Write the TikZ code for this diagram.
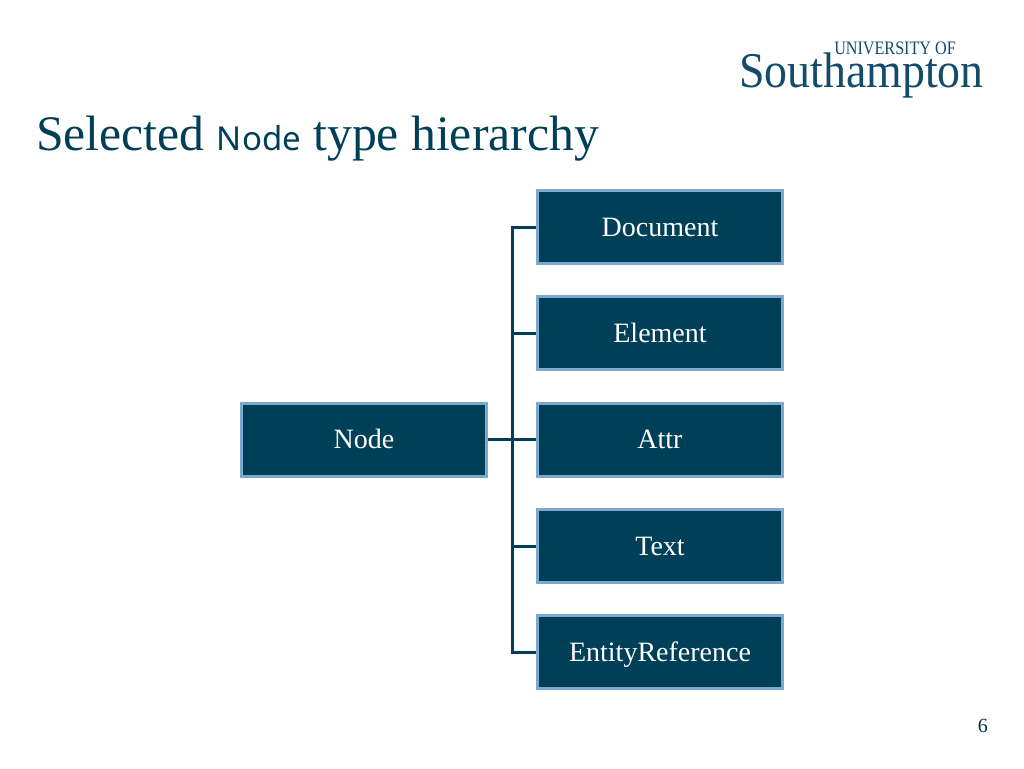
\documentclass[tikz,border=0pt]{standalone}
\usepackage{fontspec}
\setmainfont{Liberation Serif}
\newfontfamily\sansfont{Noto Sans}
\definecolor{boxfill}{HTML}{003F58}
\definecolor{boxedge}{HTML}{7DA9CE}
\definecolor{logoblue}{HTML}{134B6B}
\tikzset{
    typebox/.style={draw=boxedge, fill=boxfill, line width=3pt, minimum width=245pt, minimum height=73pt, inner sep=0pt, text height=24pt, text depth=6pt, text=white, font=\fontsize{28}{33}\selectfont},
    link/.style={draw=boxfill, line width=3pt}
}
\begin{document}
\begin{tikzpicture}[x=1pt,y=-1pt]
        \useasboundingbox (0,0) rectangle (1024,768);
        % title and logo
        \node [anchor=base west, inner sep=0pt, text=boxfill, font=\fontsize{49.7}{58}\selectfont] (title) at (36,150) {Selected {\sansfont\fontsize{33}{40}\selectfont Node} type hierarchy};
        \node [anchor=base west, inner sep=0pt, text=logoblue, xscale=0.917, font=\fontsize{50}{60}\selectfont] (logo) at (739,87) {Southampton};
        \node [anchor=base east, inner sep=0pt, text=logoblue, xscale=0.85, font=\fontsize{19}{23}\selectfont] (uni) at (956,55) {UNIVERSITY OF};
        % boxes
        \node [typebox] (node) at (364,439.5) {Node};
        \node [typebox] (document) at (660,227) {Document};
        \node [typebox] (element) at (660,333) {Element};
        \node [typebox] (attr) at (660,439.5) {Attr};
        \node [typebox] (text) at (660,546) {Text};
        \node [typebox] (entityref) at (660,652) {EntityReference};
        % connectors
        \coordinate (trunk) at (512,439.5);
        \draw [link] (node) -- (attr);
        \draw [link] (trunk) |- (document);
        \draw [link] (trunk) |- (element);
        \draw [link] (trunk) |- (text);
        \draw [link] (trunk) |- (entityref);
        % page number
        \node [anchor=base east, inner sep=0pt, text=boxfill!80!black, font=\fontsize{20}{24}\selectfont] (page) at (988,732) {6};
    \end{tikzpicture}
\end{document}
